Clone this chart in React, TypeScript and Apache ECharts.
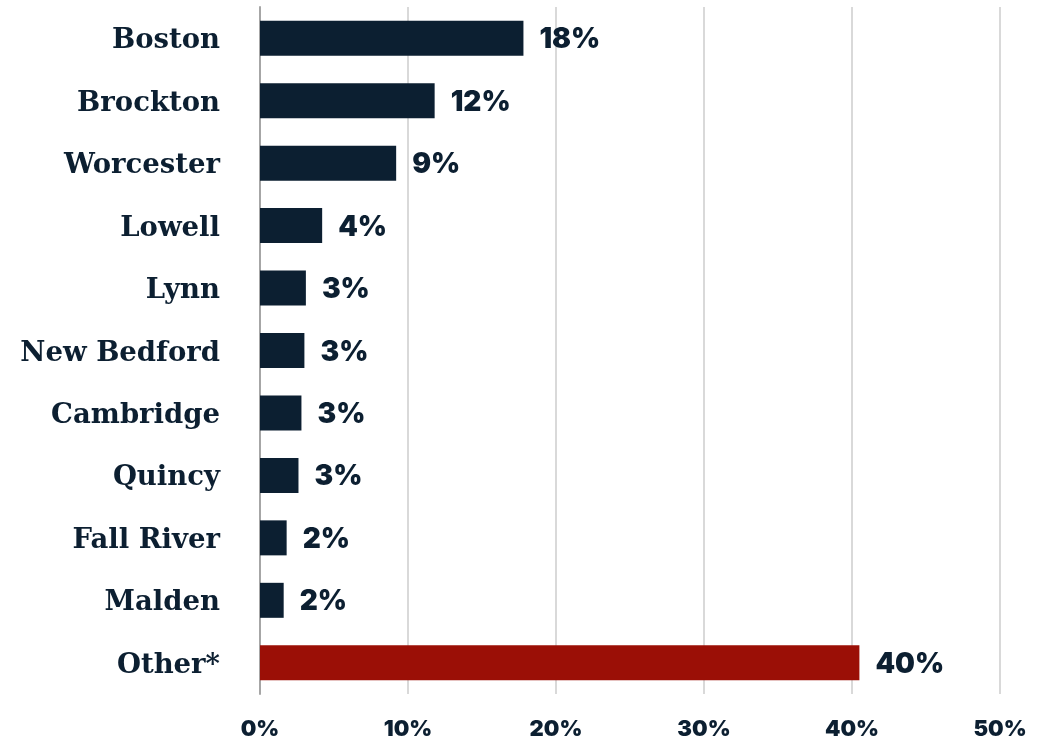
import React, { useEffect, useRef } from "react";
import * as echarts from "echarts";

const categories = ["Boston", "Brockton", "Worcester", "Lowell", "Lynn", "New Bedford", "Cambridge", "Quincy", "Fall River", "Malden", "Other*"];
const values = [17.8, 11.8, 9.2, 4.2, 3.1, 3.0, 2.8, 2.6, 1.8, 1.6, 40.5];
const valueLabels = ["18%", "12%", "9%", "4%", "3%", "3%", "3%", "3%", "2%", "2%", "40%"];
const xTicks = [0, 10, 20, 30, 40, 50];

const NAVY = "#0c1f31";
const RED = "#9b0f06";

export default function App() {
  const ref = useRef<HTMLDivElement>(null);
  useEffect(() => {
    const chart = echarts.init(ref.current!, null, { renderer: "svg" });
    chart.setOption({
      animation: false,
      grid: { left: 260, right: 58, top: 7, bottom: 48, containLabel: false },
      xAxis: {
        type: "value",
        min: xTicks[0],
        max: xTicks[xTicks.length - 1],
        interval: 10,
        axisLine: { show: false },
        axisTick: { show: false },
        splitLine: { show: true, lineStyle: { color: "#d9d9d9", width: 2 } },
        axisLabel: {
          formatter: (v: number) => v + "%",
          color: NAVY,
          fontFamily: "Inter",
          fontWeight: 900,
          fontSize: 22,
          margin: 23,
        },
      },
      yAxis: {
        type: "category",
        data: categories,
        inverse: true,
        axisLine: { show: true, lineStyle: { color: "#a6a6a6", width: 2 } },
        axisTick: { show: false },
        axisLabel: {
          color: NAVY,
          fontFamily: "DejaVu Serif",
          fontWeight: "bold",
          fontSize: 27.5,
          margin: 40,
        },
      },
      series: [
        {
          type: "bar",
          barWidth: 35,
          data: values.map((v, i) => ({
            value: v,
            itemStyle: { color: i === values.length - 1 ? RED : NAVY },
            label: {
              show: true,
              position: "right",
              distance: 16,
              formatter: valueLabels[i],
              color: NAVY,
              fontFamily: "Inter",
              fontWeight: 900,
              fontSize: 28,
            },
          })),
        },
      ],
    });
    return () => chart.dispose();
  }, []);
  return <div ref={ref} style={{ position: "fixed", left: 0, top: 0, width: 1058, height: 742 }} />;
}
